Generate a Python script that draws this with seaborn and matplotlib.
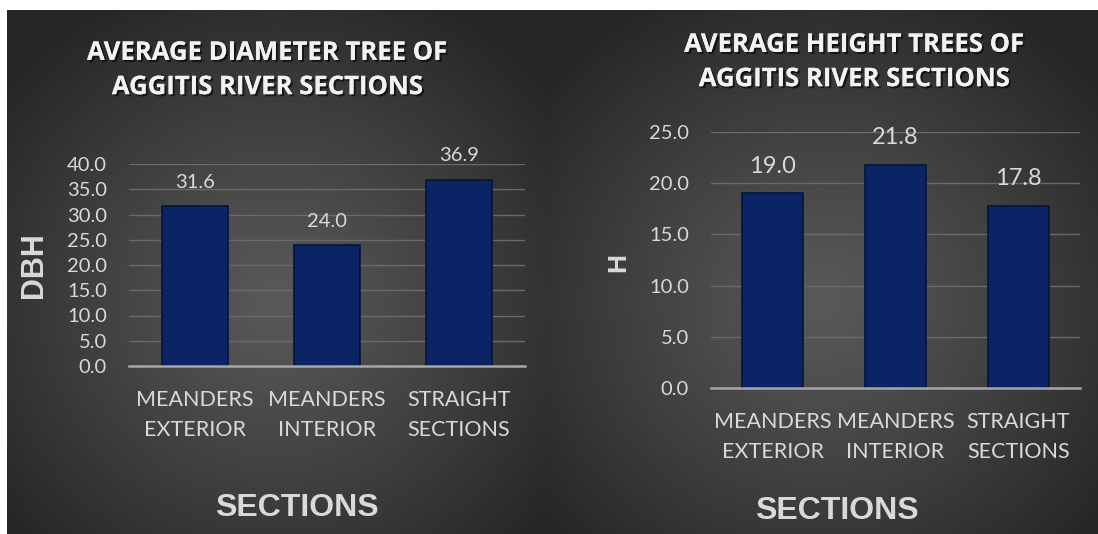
import numpy as np
import pandas as pd
import matplotlib
matplotlib.use("Agg")
import matplotlib.pyplot as plt
import matplotlib.patheffects as pe
import seaborn as sns

# ---- data ----
categories = ["MEANDERS\nEXTERIOR", "MEANDERS\nINTERIOR", "STRAIGHT\nSECTIONS"]
dbh_values = [31.6, 24.0, 36.9]
h_values = [19.0, 21.8, 17.8]
dbh_ticks = [0, 5, 10, 15, 20, 25, 30, 35, 40]
h_ticks = [0, 5, 10, 15, 20, 25]
title_left = "AVERAGE DIAMETER TREE OF\nAGGITIS RIVER SECTIONS"
title_right = "AVERAGE HEIGHT TREES OF\nAGGITIS RIVER SECTIONS"

sns.set_theme(style="dark")
plt.rcParams["font.family"] = ["Lato", "DejaVu Sans"]

W, H = 1098, 534
fig = plt.figure(figsize=(W / 100, H / 100), dpi=100)
fig.patch.set_facecolor("white")

# ---- background: two radial gradients ----
x0, y0 = 7, 10
bg = fig.add_axes([x0 / W, 0, 1 - x0 / W, 1 - y0 / H])
bg.set_axis_off()
xs = np.arange(x0, W) + 0.5
ys = np.arange(y0, H) + 0.5
XX, YY = np.meshgrid(xs, ys)
split = 545
cx = np.where(XX < split, (x0 + split) / 2, (split + W) / 2)
hw = np.where(XX < split, (split - x0) / 2, (W - split) / 2)
cy = (y0 + H) / 2 + 30
hh = (H - y0) / 2
d = np.sqrt(((XX - cx) / hw) ** 2 + ((YY - cy) / hh) ** 2) / 1.3
d = np.clip(d, 0, 1)
c_center, c_edge = 0.35, 0.15
val = c_center - (c_center - c_edge) * d ** 1.1
img = np.dstack([val, val, val])
bg.imshow(img, aspect="auto", extent=[0, 1, 0, 1], origin="upper")
bg.set_xlim(0, 1)
bg.set_ylim(0, 1)

bar_color = "#0b2466"
edge_color = "#061538"
tick_color = "#d9d9d9"
grid_color = "#6a6a6a"
base_color = "#a6a6a6"
shadow = [pe.withSimplePatchShadow(offset=(1.5, -1.5), shadow_rgbFace="black", alpha=0.6), pe.Normal()]


def panel(rect, values, ticks, ylabel, title, title_xy, ylab_xy, xlab_xy,
          tick_fs, val_fs, val_pad, xtick_fs, ylab_fs):
    ax = fig.add_axes(rect)
    ax.patch.set_alpha(0)
    df = pd.DataFrame({"section": categories, "value": values})
    sns.barplot(data=df, x="section", y="value", color=bar_color, width=0.5,
                edgecolor=edge_color, linewidth=1.2, saturation=1, ax=ax, zorder=3)
    ax.set_ylim(ticks[0], ticks[-1])
    ax.set_yticks(ticks)
    ax.set_yticklabels([f"{t:.1f}" for t in ticks])
    ax.yaxis.grid(True, color=grid_color, linewidth=1.0, zorder=0)
    ax.xaxis.grid(False)
    for s in ["top", "right", "left"]:
        ax.spines[s].set_visible(False)
    ax.spines["bottom"].set_visible(True)
    ax.spines["bottom"].set_color(base_color)
    ax.spines["bottom"].set_linewidth(1.8)
    ax.spines["bottom"].set_zorder(4)
    ax.tick_params(axis="y", length=0, pad=16, labelsize=tick_fs, labelcolor=tick_color)
    ax.tick_params(axis="x", length=0, pad=17, labelsize=xtick_fs, labelcolor=tick_color)
    for lab in ax.get_xticklabels():
        lab.set_linespacing(1.65)
    for cont in ax.containers:
        ax.bar_label(cont, fmt="%.1f", padding=val_pad, fontsize=val_fs, color=tick_color)
    ax.set_ylabel(ylabel, fontsize=ylab_fs, fontweight="bold", color=tick_color,
                  family=["Liberation Sans", "DejaVu Sans"])
    ax.yaxis.set_label_coords(*ylab_xy)
    ax.set_xlabel("SECTIONS", fontsize=23, fontweight="bold", color=tick_color,
                  family=["Liberation Sans", "DejaVu Sans"])
    ax.xaxis.set_label_coords(*xlab_xy)
    ax.text(title_xy[0], title_xy[1], title, transform=ax.transAxes, ha="center", va="center",
            fontsize=18.5, fontweight="bold", color="#f2f2f2", linespacing=1.35,
            family=["Open Sans", "DejaVu Sans"], path_effects=shadow)
    return ax


panel([129 / W, 1 - 366 / H, 396 / W, 202 / H], dbh_values, dbh_ticks, "DBH", title_left,
      (0.351, (366 - 69.5) / 202), (-0.202, 0.5), (0.424, -0.629), 14.5, 14.5, 11, 15.5, 22)
panel([711 / W, 1 - 388 / H, 369 / W, 256 / H], h_values, h_ticks, "H", title_right,
      (0.39, (388 - 61.5) / 256), (-0.22, 0.49), (0.341, -0.42), 14.5, 17, 12, 15.5, 19)

fig.savefig("out.png", dpi=100)
